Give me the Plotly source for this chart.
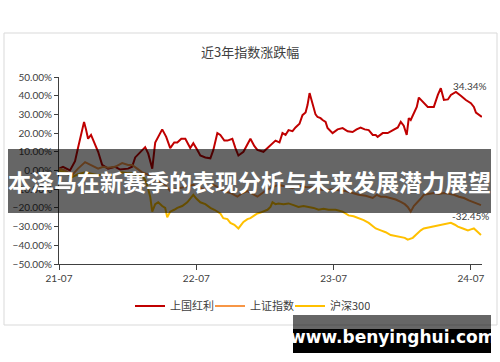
import plotly.graph_objects as go

# ---- data (x = months since 2021-07, y = cumulative change in %) ----
red_x = [0, 0.35, 0.96, 1.40, 1.66, 1.93, 2.19, 2.36, 2.54, 2.80, 3.15, 3.42, 3.77, 4.29, 4.91, 5.34, 6.04, 6.39, 6.66,
         7.10, 7.53, 7.80, 8.15, 8.41, 8.76, 9.02, 9.37, 9.72, 10.07, 10.34, 10.69, 11.04, 11.47, 11.74, 12.09, 12.35,
         12.79, 13.23, 13.49, 13.84, 14.10, 14.45, 14.72, 15.15, 15.42, 15.68, 16.12, 16.47, 16.73, 17.08, 17.34, 17.87,
         18.22, 18.48, 18.92, 19.27, 19.53, 19.80, 20.06, 20.41, 20.67, 21.02, 21.28, 21.55, 21.72, 21.90, 22.07, 22.16,
         22.42, 22.60, 22.86, 23.04, 23.30, 23.47, 23.91, 24.35, 24.79, 25.23, 25.66, 26.01, 26.36, 26.72, 27.07, 27.42,
         27.68, 27.85, 28.29, 28.73, 29.26, 29.61, 29.87, 30.13, 30.39, 30.57, 30.74, 31.01, 31.27, 31.45, 31.62, 31.80,
         32.23, 32.50, 32.76, 33.11, 33.37, 33.64, 33.99, 34.25, 34.69, 35.12, 35.56, 36.00, 36.26, 36.44, 36.70, 36.96]
red_y = [1, 2, 0, 5, 12, 20, 26, 22, 17, 19, 14, 10, 3, 1, 2, 0.5, 1, 2, 7,
         10, 12.5, 9, 1, 15, 19, 22, 18, 12, 15, 15, 17, 17, 12, 14.6, 11, 8,
         7, 6.5, 11, 20, 19, 16, 16, 17, 12, 8, 10, 14, 17, 13, 11, 10,
         12, 13.6, 16, 15, 20, 19, 21.6, 21, 23, 25, 29.6, 31, 35, 41.4, 38, 35,
         30, 28.6, 28, 27, 26, 22.7, 20, 22, 22.7, 21, 20.6, 22, 23, 22, 21.6, 19,
         19, 18, 20, 20, 21.6, 23, 26, 24, 19, 28, 27, 31, 34, 39, 38, 36.6,
         34, 34, 34, 40.4, 44, 37.7, 38, 40.4, 42, 40, 37.7, 36, 34, 31, 30, 28.6]

org_x = [0, 0.53, 1.14, 1.66, 2.28, 2.72, 3.42, 3.85, 4.29, 4.91, 5.52, 6.04, 6.39, 6.83, 7.27, 7.71, 8.15, 8.67,
         9.28, 9.72, 10.16, 10.60, 11.21, 11.74, 12.18, 12.61, 13.05, 13.49, 13.93, 14.36, 14.98, 15.59, 16.03, 16.47,
         16.91, 17.34, 17.78, 18.22, 18.66, 19.18, 19.80, 20.41, 20.93, 21.55, 22.16, 22.69, 23.30, 23.91, 24.44, 25.05,
         25.66, 26.19, 26.80, 27.42, 27.77, 28.12, 28.55, 28.99, 29.43, 29.87, 30.22, 30.48, 30.74, 31.01, 31.36, 31.62,
         31.88, 32.32, 32.76, 33.20, 33.64, 34.07, 34.51, 34.95, 35.39, 35.82, 36.26, 36.61, 36.88]
org_y = [1, 0, -2.5, 1, 4.5, 3, 1, 2, 1.5, 2, 4, 3, 3, 1, -1, -2, -4, -6,
         -7.7, -11, -10, -9.4, -8.5, -7.7, -9, -10, -9, -7.7, -9, -11, -12, -14, -12, -11,
         -12.5, -14, -12, -10, -9, -7.7, -8.5, -9.4, -8, -8.8, -9, -10, -10.5, -10, -10.5, -11,
         -12, -13, -13.5, -14.7, -13, -14, -14, -14.7, -15.5, -16.8, -18, -19.5, -22, -19, -17, -15,
         -13, -12.5, -12, -12.5, -12, -12.5, -13, -14, -14.7, -16, -17, -18, -18.5]

yel_x = [0, 0.53, 1.14, 1.66, 2.28, 2.89, 3.42, 4.03, 4.64, 5.17, 5.52, 5.96, 6.39, 6.83, 7.27, 7.53, 7.71, 7.97,
         8.15, 8.41, 8.67, 9.02, 9.28, 9.46, 9.72, 10.07, 10.34, 10.77, 11.21, 11.47, 11.74, 12.00, 12.35, 12.79, 13.23,
         13.58, 13.84, 14.10, 14.36, 14.72, 14.98, 15.33, 15.68, 15.94, 16.12, 16.47, 16.73, 17.08, 17.34, 17.61, 17.87,
         18.22, 18.48, 18.66, 18.92, 19.18, 19.62, 20.06, 20.50, 20.93, 21.37, 21.81, 22.25, 22.69, 23.12, 23.56, 24.18,
         24.79, 25.31, 25.75, 26.19, 26.63, 27.07, 27.42, 27.68, 28.12, 28.55, 28.99, 29.43, 29.87, 30.22, 30.48, 30.74,
         30.92, 31.18, 31.36, 31.62, 31.88, 32.32, 32.76, 33.20, 33.64, 33.99, 34.25, 34.60, 34.86, 35.30, 35.74, 36.00,
         36.26, 36.53, 36.88]
yel_y = [0, -1, -3.5, -2, -1, -2, -2.5, -2, -2.5, -1.5, -1, -1.5, -1.5, -2.5, -2.5, -5, -8, -14,
         -22, -18, -17, -19, -20, -25, -22, -21, -20, -19, -17, -15, -13, -15, -17, -18, -20,
         -21, -22, -23, -25.5, -26, -28, -29, -31, -29, -27.5, -26, -25.5, -24, -23, -22.5, -22,
         -21, -19.5, -17, -18, -17.6, -18, -17.6, -18.5, -19.5, -19, -19.5, -20, -21, -20.5, -21, -21,
         -22, -24, -24.5, -25.5, -26.5, -28, -29.5, -31, -32, -33, -34.5, -35, -35.6, -36, -37, -36.5,
         -36, -34.5, -33.4, -32, -31, -30.5, -30, -29.5, -29, -28.5, -28, -29, -30, -31, -32, -31.5,
         -31, -32.5, -34.5]

series_names = ["上国红利", "上证指数", "沪深300"]
series_colors = ["#C00000", "#F79646", "#FFC000"]
tick_vals = [0, 12, 24, 36]
tick_text = ["21-07", "22-07", "23-07", "24-07"]
label_hi, label_lo = "34.34%", "-32.45%"
title_text = "近3年指数涨跌幅"
banner_text = "本泽马在新赛季的表现分析与未来发展潜力展望"
watermark_text = "www.benyinghui.com"

# ---- layout geometry (pixels) ----
W, H = 500, 362
L, R, T, B = 59, 482, 77, 264


def px(x):
    return (x - L) / (R - L)


def py(y):
    return (B - y) / (B - T)


fig = go.Figure()
for xs, ys, nm, col in zip([red_x, org_x, yel_x], [red_y, org_y, yel_y], series_names, series_colors):
    fig.add_trace(go.Scatter(x=xs, y=ys, name=nm, mode="lines",
                             line=dict(color=col, width=2)))

CJK = "Noto Sans CJK SC"
fig.update_layout(
    width=W, height=H,
    margin=dict(l=L, r=W - R, t=T, b=H - B, pad=0),
    paper_bgcolor="white", plot_bgcolor="white",
    showlegend=True,
    legend=dict(orientation="h", x=px(250), xanchor="center", y=py(306), yanchor="middle",
                font=dict(family=CJK, size=11, color="#404040"), itemwidth=30,
                entrywidth=35, entrywidthmode="pixels",
                bgcolor="rgba(0,0,0,0)"),
    font=dict(family=CJK, color="#404040"),
)
fig.update_xaxes(range=[0, 36.97], tickvals=tick_vals, ticktext=tick_text, showgrid=False, zeroline=False,
                 showline=True, linecolor="#404040", linewidth=1, ticks="outside", ticklen=5,
                 tickcolor="#404040", tickfont=dict(family="Lato", size=10, color="#404040"))
fig.update_yaxes(range=[-50, 50], dtick=10, tick0=0, tickformat=".2f", ticksuffix="%", showgrid=False,
                 zeroline=False, showline=True, linecolor="#404040", linewidth=1, ticks="outside", ticklen=4,
                 tickcolor="#404040", tickfont=dict(family="Lato", size=10, color="#404040"))

shapes = [
    dict(type="rect", xref="paper", yref="paper", x0=px(4), x1=px(497), y0=py(325), y1=py(33),
         line=dict(color="#D9D9D9", width=1), fillcolor="rgba(0,0,0,0)", layer="below"),
    dict(type="rect", xref="paper", yref="paper", x0=px(8), x1=px(491), y0=py(213), y1=py(149),
         line=dict(width=0), fillcolor="rgba(0,0,0,0.6)", layer="above"),
    dict(type="rect", xref="paper", yref="paper", x0=px(293), x1=px(491), y0=py(353), y1=py(315),
         line=dict(width=0), fillcolor="rgba(0,0,0,0.6)", layer="above"),
    dict(type="rect", xref="paper", yref="paper", x0=px(293), x1=px(491), y0=py(353), y1=py(329),
         line=dict(width=0), fillcolor="#000000", layer="above"),
]
fig.update_layout(shapes=shapes)

ann = [
    dict(text=title_text, x=px(250), y=py(52), font=dict(family=CJK, size=13, color="#404040")),
    dict(text=label_hi, x=px(470), y=py(86), font=dict(family="Lato", size=10, color="#404040")),
    dict(text=label_lo, x=px(470), y=py(216), font=dict(family="Lato", size=10, color="#404040")),
    dict(text="<b>" + banner_text + "</b>", x=px(249), y=py(181),
         font=dict(family=CJK, size=23, color="white")),
    dict(text="<b>" + watermark_text + "</b>", x=px(392), y=py(337),
         font=dict(family="DejaVu Sans", size=17, color="white")),
]
for a in ann:
    a.update(xref="paper", yref="paper", showarrow=False, xanchor="center", yanchor="middle")
fig.update_layout(annotations=ann)

fig.write_html("out.html")
